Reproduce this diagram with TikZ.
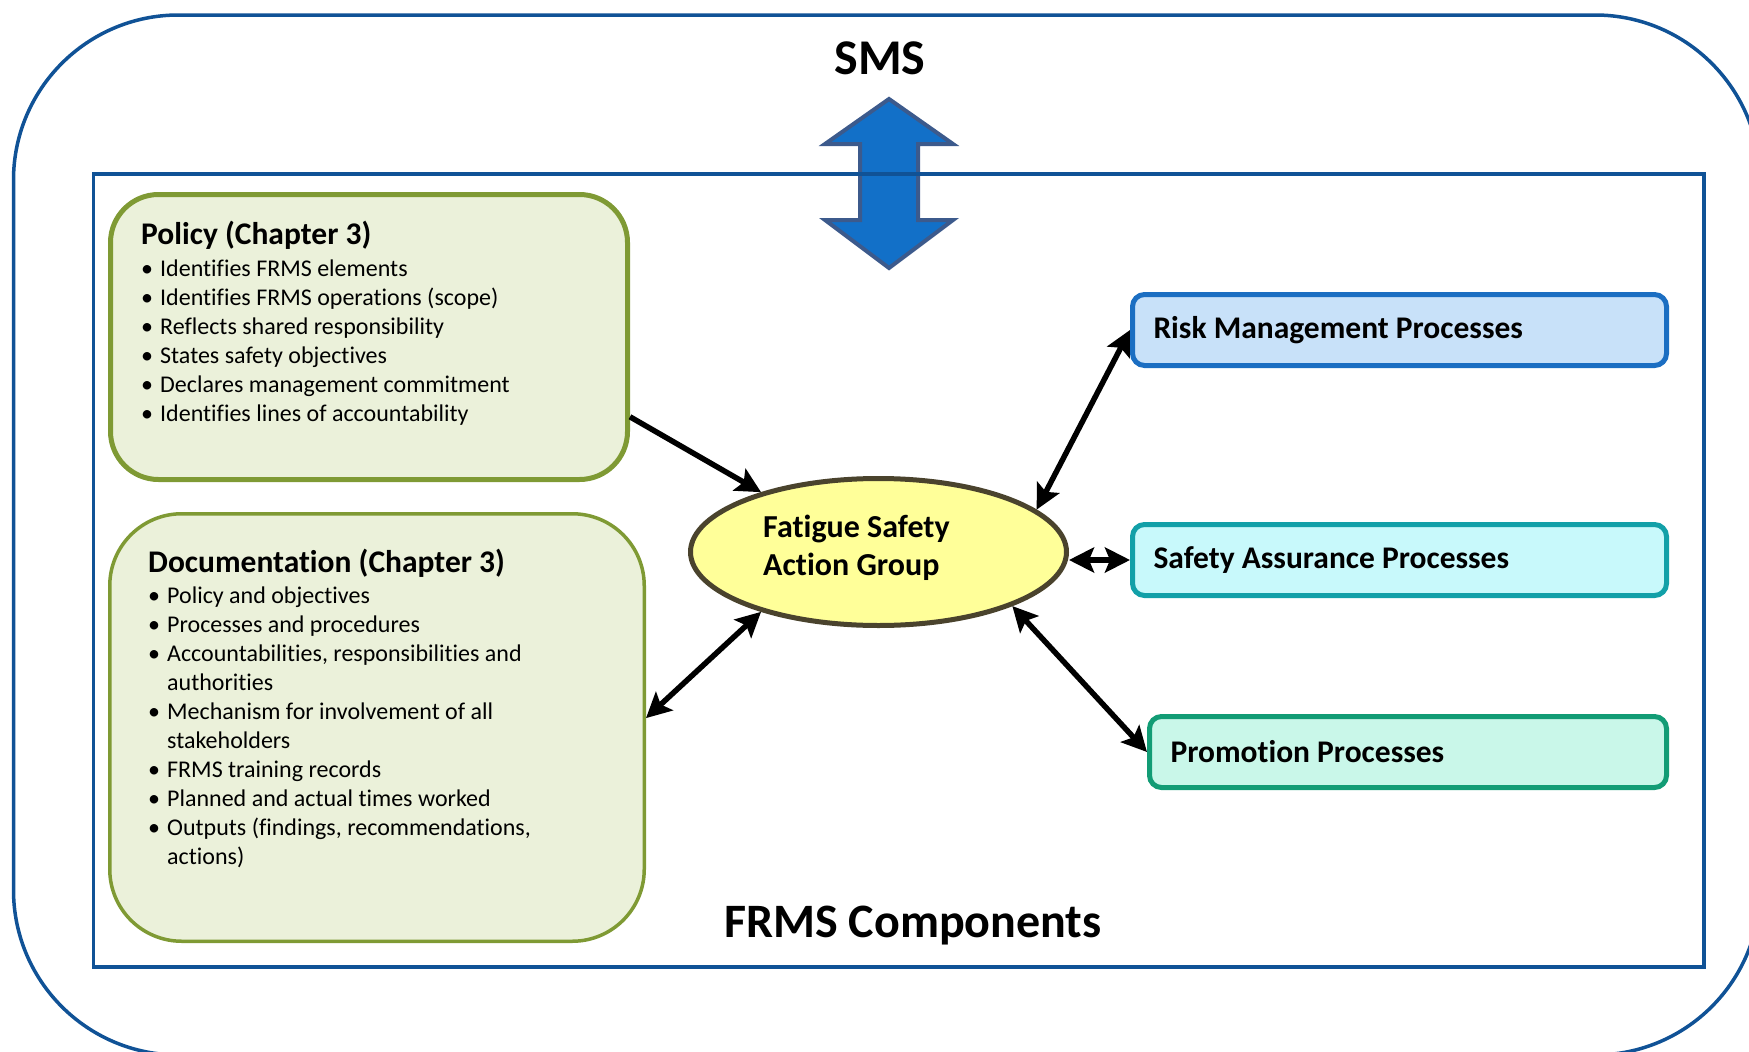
\documentclass[tikz,border=0pt]{standalone}
\usepackage{fontspec}
\setmainfont{Carlito}[Ligatures=NoCommon]
\usetikzlibrary{arrows.meta,shapes.geometric}

\definecolor{frameblue}{RGB}{16,82,150}
\definecolor{bigarrow}{RGB}{18,112,200}
\definecolor{bigarrowedge}{RGB}{60,90,140}
\definecolor{olive}{RGB}{127,154,52}
\definecolor{olivefill}{RGB}{235,241,218}
\definecolor{fsagedge}{RGB}{74,67,45}
\definecolor{fsagfill}{RGB}{255,255,153}
\definecolor{riskedge}{RGB}{27,110,194}
\definecolor{riskfill}{RGB}{200,225,249}
\definecolor{safeedge}{RGB}{18,160,168}
\definecolor{safefill}{RGB}{200,249,251}
\definecolor{promoedge}{RGB}{18,156,117}
\definecolor{promofill}{RGB}{201,247,233}

\newcommand{\frmsbul}{\makebox[19pt][l]{\textbullet}}
\newcommand{\frmsind}{\hspace*{19pt}}

\tikzset{
  greenbox/.style={rectangle, draw=olive, fill=olivefill, anchor=north west},
  procbox/.style={rectangle, rounded corners=12pt, line width=5pt, minimum height=71pt,
    inner xsep=21pt, anchor=west, font=\fontsize{31.5}{38}\selectfont\bfseries},
  listtext/.style={anchor=base west, inner sep=0pt, font=\fontsize{24}{29}\selectfont},
  link/.style={line width=5.5pt},
}

\begin{document}
\begin{tikzpicture}[x=1pt,y=-1pt,>={Stealth[length=25pt,width=25pt,inset=5pt]}]
    \useasboundingbox (0,0) rectangle (1749,1052);
    \clip (0,0) rectangle (1749,1052);
    % SMS frame
    \draw[frameblue,line width=3.5pt,rounded corners=165pt] (13.5,15) rectangle (1760,1055);
    \draw[bigarrowedge,fill=bigarrow,line width=4pt,line join=miter] (889,99) -- (953,144) -- (918,144) -- (918,220) -- (953,220) -- (889,268) -- (825,220) -- (860,220) -- (860,144) -- (825,144) -- cycle;
    % FRMS frame
    \draw[frameblue,line width=3.5pt] (93.5,174) rectangle (1704,967);

    \node[greenbox, line width=5pt, rounded corners=48pt, minimum width=517pt, minimum height=285pt] (policy) at (108,192) {};
    \node[greenbox, line width=3.5pt, rounded corners=72pt, minimum width=534.5pt, minimum height=427.5pt] (doc) at (108,512) {};
    \node[ellipse, draw=fsagedge, fill=fsagfill, line width=5pt, minimum width=376pt, minimum height=147pt] (fsag) at (878.5,552) {};

    \node[procbox, draw=riskedge, fill=riskfill] (risk) at (1130,330) {\makebox[492pt][l]{Risk Management Processes}};
    \node[procbox, draw=safeedge, fill=safefill] (safety) at (1130,560) {\makebox[492pt][l]{Safety Assurance Processes}};
    \node[procbox, draw=promoedge, fill=promofill] (promo) at (1147,752) {\makebox[475pt][l]{Promotion Processes}};

    \node[listtext] (policytext) at (141,244) {\begin{tabular}[t]{@{}l@{}}
      {\fontsize{31.5}{38}\selectfont\bfseries Policy (Chapter 3)}\\[3pt]
      \frmsbul Identifies FRMS elements\\
      \frmsbul Identifies FRMS operations (scope)\\
      \frmsbul Reflects shared responsibility\\
      \frmsbul States safety objectives\\
      \frmsbul Declares management commitment\\
      \frmsbul Identifies lines of accountability
    \end{tabular}};
    \node[listtext] (doctext) at (148,572) {\begin{tabular}[t]{@{}l@{}}
      {\fontsize{31.5}{38}\selectfont\bfseries Documentation (Chapter 3)}\\[2pt]
      \frmsbul Policy and objectives\\
      \frmsbul Processes and procedures\\
      \frmsbul Accountabilities, responsibilities and\\
      \frmsind authorities\\
      \frmsbul Mechanism for involvement of all\\
      \frmsind stakeholders\\
      \frmsbul FRMS training records\\
      \frmsbul Planned and actual times worked\\
      \frmsbul Outputs (findings, recommendations,\\
      \frmsind actions)
    \end{tabular}};
    \node[anchor=base west, inner sep=0pt, font=\fontsize{32}{38}\selectfont\bfseries] (fsagtext) at (763,537)
      {\begin{tabular}[t]{@{}l@{}}Fatigue Safety\\Action Group\end{tabular}};

    \node[anchor=base, inner sep=0pt, font=\fontsize{50}{60}\selectfont\bfseries] (sms) at (880,74) {SMS};
    \node[anchor=base, inner sep=0pt, font=\fontsize{48}{58}\selectfont\bfseries] (frms) at (913,937) {FRMS Components};

    \draw[link,->] (policy.-17.7) -- (fsag.153);
    \draw[link,<->] (fsag.15) -- (risk.west);
    \draw[link,<->] (fsag.east |- safety.west) -- (safety.west);
    \draw[link,<->] (fsag.-22) -- (promo.west);
    \draw[link,<->] (doc.2) -- (fsag.207);
\end{tikzpicture}
\end{document}
